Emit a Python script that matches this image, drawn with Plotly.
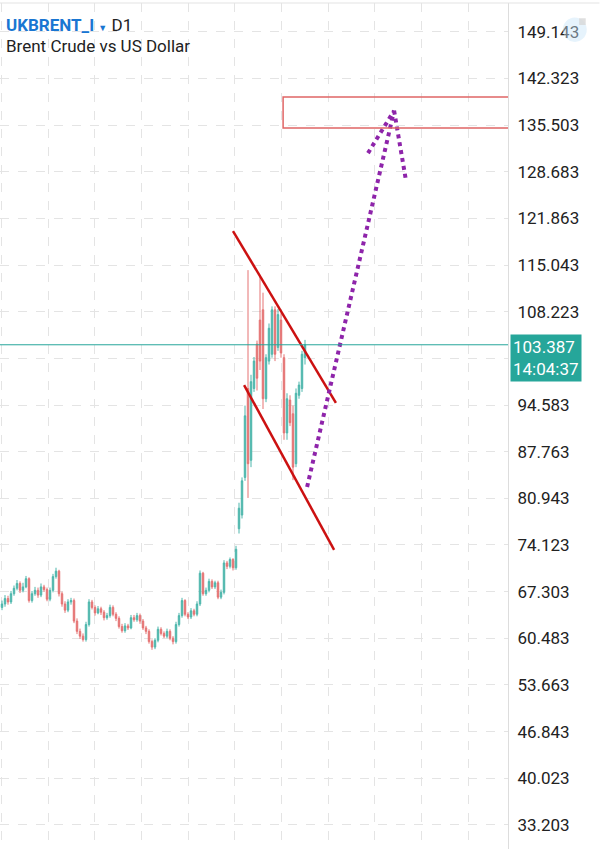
import plotly.graph_objects as go

# daily bars (index = bar number)
opens = [65.0, 65.5, 66.3, 65.8, 67.0, 67.8, 68.5, 67.5, 68.0, 69.2,
         66.0, 67.0, 67.5, 66.8, 68.0, 67.6, 66.2, 67.5, 69.5, 70.3,
         67.0, 65.5, 64.6, 65.8, 66.0, 63.0, 61.5, 60.8, 60.3, 62.5,
         65.8, 65.0, 64.2, 64.8, 64.3, 63.5, 63.8, 65.0, 64.0, 63.4,
         62.2, 61.6, 62.3, 62.0, 63.5, 63.2, 63.8, 63.0, 62.0, 61.5,
         60.0, 59.2, 60.2, 61.8, 61.2, 60.8, 61.5, 60.5, 60.0, 62.5,
         63.8, 66.0, 64.0, 63.6, 64.5, 64.0, 65.5, 70.0, 67.0, 67.5,
         68.8, 68.0, 68.6, 66.5, 67.2, 71.5, 71.0, 72.0, 70.8, 76.5,
         78.5, 84.0, 97.0, 86.5, 97.0, 103.5, 107.0, 108.5, 95.5, 101.0,
         102.0, 108.5, 103.0, 107.0, 101.5, 90.5, 95.3, 93.3, 86.0, 96.0,
         97.0, 101.5]
highs = [66.0, 66.8, 66.7, 67.4, 68.2, 69.0, 68.8, 68.6, 69.6, 69.4,
         67.4, 68.0, 67.9, 68.5, 68.3, 67.9, 67.9, 69.9, 70.8, 70.5,
         67.3, 65.9, 66.2, 66.4, 66.3, 63.4, 61.9, 61.2, 62.9, 66.2,
         66.1, 65.3, 65.2, 65.1, 64.6, 64.2, 65.4, 65.3, 64.3, 63.7,
         62.6, 62.7, 62.6, 63.9, 63.9, 64.2, 64.1, 63.3, 62.3, 61.8,
         60.3, 60.5, 62.2, 62.1, 61.5, 61.9, 61.8, 60.8, 62.9, 64.2,
         66.4, 66.2, 64.3, 64.9, 64.8, 65.9, 70.4, 70.2, 67.9, 69.2,
         69.1, 68.9, 68.9, 67.6, 71.9, 71.8, 72.3, 72.2, 74.0, 80.3,
         84.0, 94.5, 114.3, 99.0, 101.6, 104.0, 113.6, 111.0, 102.0, 106.5,
         109.0, 109.0, 108.6, 108.0, 102.0, 96.3, 96.0, 94.5, 97.0, 98.0,
         102.5, 104.1]
lows = [64.6, 65.1, 65.4, 65.5, 66.7, 67.5, 67.1, 67.2, 67.8, 65.7,
        65.7, 66.7, 66.4, 66.5, 67.3, 65.9, 65.9, 67.2, 69.2, 66.6,
        65.1, 64.2, 64.3, 65.4, 62.7, 61.1, 60.4, 60.0, 60.0, 62.2,
        64.7, 63.8, 64.0, 63.9, 63.1, 63.2, 63.5, 63.7, 63.0, 61.9,
        61.3, 61.3, 61.7, 61.8, 62.9, 62.9, 62.6, 61.7, 61.1, 59.7,
        58.8, 58.9, 59.9, 60.9, 60.5, 60.5, 60.2, 59.6, 59.7, 62.2,
        63.5, 63.7, 63.3, 63.3, 63.7, 63.7, 65.2, 66.7, 66.7, 67.2,
        67.7, 67.7, 66.2, 66.2, 66.9, 70.6, 70.7, 70.4, 70.5, 75.8,
        78.0, 83.5, 81.0, 85.5, 96.5, 96.7, 99.7, 94.0, 95.0, 100.5,
        101.5, 101.0, 102.5, 101.5, 89.5, 89.5, 91.5, 83.6, 85.5, 95.5,
        96.5, 100.5]
closes = [65.5, 66.3, 65.8, 67.0, 67.8, 68.5, 67.5, 68.0, 69.2, 66.0,
          67.0, 67.5, 66.8, 68.0, 67.6, 66.2, 67.5, 69.5, 70.3, 67.0,
          65.5, 64.6, 65.8, 66.0, 63.0, 61.5, 60.8, 60.3, 62.5, 65.8,
          65.0, 64.2, 64.8, 64.3, 63.5, 63.8, 65.0, 64.0, 63.4, 62.2,
          61.6, 62.3, 62.0, 63.5, 63.2, 63.8, 63.0, 62.0, 61.5, 60.0,
          59.2, 60.2, 61.8, 61.2, 60.8, 61.5, 60.5, 60.0, 62.5, 63.8,
          66.0, 64.0, 63.6, 64.5, 64.0, 65.5, 70.0, 67.0, 67.5, 68.8,
          68.0, 68.6, 66.5, 67.2, 71.5, 71.0, 72.0, 70.8, 73.5, 79.5,
          83.5, 93.0, 86.0, 98.0, 101.0, 98.5, 101.0, 95.5, 101.5, 105.8,
          108.5, 102.0, 107.8, 102.2, 90.5, 95.5, 92.0, 85.5, 96.3, 97.5,
          102.0, 103.387]
bars = list(range(len(closes)))

price_ticks = [149.143, 142.323, 135.503, 128.683, 121.863, 115.043, 108.223,
               101.403, 94.583, 87.763, 80.943, 74.123, 67.303, 60.483,
               53.663, 46.843, 40.023, 33.203]
tick_labels = ["" if v == 101.403 else f"{v:.3f}" for v in price_ticks]
last_price = 103.387
last_time = "14:04:37"

# drawings (bar index, price)
upper_channel = ([77, 111.3], [120.0, 94.9])
lower_channel = ([80.7, 110.7], [97.5, 73.4])
target_zone = (93.7, 135.07, 139.6)
arrow_shaft = ([101.7, 130.7], [82.6, 137.6])
arrow_left = ([122.0, 130.7], [131.4, 137.6])
arrow_right = ([130.7, 134.7], [137.6, 127.3])

fig = go.Figure()
fig.add_trace(go.Candlestick(
    x=bars, open=opens, high=highs, low=lows, close=closes,
    increasing=dict(line=dict(color="#4db6ac", width=1), fillcolor="#4db6ac"),
    decreasing=dict(line=dict(color="#e57373", width=1), fillcolor="#e57373"),
    whiskerwidth=0, hoverinfo="skip", showlegend=False))

purple = dict(color="#8e24aa", width=4, dash="dot")
for xs, ys, ln in [(upper_channel[0], upper_channel[1], dict(color="#cc1111", width=2.5)),
                   (lower_channel[0], lower_channel[1], dict(color="#cc1111", width=2.5)),
                   (arrow_shaft[0], arrow_shaft[1], purple),
                   (arrow_left[0], arrow_left[1], purple),
                   (arrow_right[0], arrow_right[1], purple)]:
    fig.add_trace(go.Scatter(x=xs, y=ys, mode="lines", line=ln,
                             hoverinfo="skip", showlegend=False))

# target box
fig.add_shape(type="rect", xref="x", yref="y", x0=target_zone[0], x1=200,
              y0=target_zone[1], y1=target_zone[2],
              line=dict(color="#e06666", width=1.5), fillcolor="rgba(0,0,0,0)")
# current price line
fig.add_shape(type="line", xref="paper", yref="y", x0=0, x1=1,
              y0=last_price, y1=last_price, line=dict(color="#26a69a", width=1))
# top border
fig.add_shape(type="line", xref="paper", yref="paper", x0=0, x1=1.18,
              y0=1, y1=1, line=dict(color="#e3e3e3", width=1))
# faint icon top right
fig.add_shape(type="circle", xref="paper", yref="paper",
              x0=1.108, x1=1.155, y0=0.954, y1=0.983,
              line=dict(width=0), fillcolor="rgba(200,228,248,0.45)")
fig.add_shape(type="rect", xref="paper", yref="paper",
              x0=1.14, x1=1.153, y0=0.974, y1=0.982,
              line=dict(width=0), fillcolor="rgba(215,215,215,0.8)")

fig.add_annotation(x=1, xref="paper", y=last_price, yref="y", xanchor="left",
                   yanchor="top", yshift=11, xshift=2, showarrow=False,
                   text=f"{last_price:.3f}<br>{last_time}", align="left",
                   bgcolor="#26a69a", borderpad=2,
                   font=dict(color="white", size=17, family="Roboto"))
fig.add_annotation(x=0, xref="paper", y=1, yref="paper", xanchor="left",
                   yanchor="top", xshift=4, yshift=-10, showarrow=False,
                   text="<span style='color:#1976d2'><b>UKBRENT_I</b> <span style='font-size:9px'>▼</span></span> D1",
                   font=dict(color="#222", size=17, family="Roboto"))
fig.add_annotation(x=0, xref="paper", y=1, yref="paper", xanchor="left",
                   yanchor="top", xshift=4, yshift=-31, showarrow=False,
                   text="Brent Crude vs US Dollar",
                   font=dict(color="#222", size=17, family="Roboto"))

fig.update_layout(
    width=600, height=849,
    margin=dict(l=0, r=92, t=3, b=0),
    plot_bgcolor="white", paper_bgcolor="white",
    hovermode=False, showlegend=False,
    font=dict(family="Roboto", color="#222"),
)
fig.update_xaxes(range=[-0.67, 168.67], rangeslider_visible=False,
                 showticklabels=False, ticks="", zeroline=False,
                 tick0=-0.23, dtick=15.567,
                 showgrid=True, gridcolor="#e4e4e4", griddash="dash", gridwidth=1)
fig.update_yaxes(range=[29.69, 153.34], side="right",
                 tickvals=price_ticks, ticktext=tick_labels,
                 tickfont=dict(size=17, color="#222", family="Roboto"),
                 ticks="", ticklabelstandoff=5, zeroline=False,
                 showline=True, linecolor="#dddddd", linewidth=1,
                 showgrid=True, gridcolor="#e4e4e4", griddash="dash", gridwidth=1)

fig.write_html("out.html", config={"displayModeBar": False},
               post_script="document.body.style.margin='0';")
